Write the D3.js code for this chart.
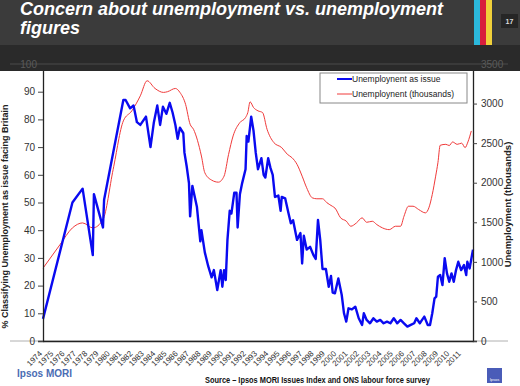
<!DOCTYPE html>
<html>
<head>
<meta charset="utf-8">
<script src="https://cdn.jsdelivr.net/npm/d3@7"></script>
<style>
  body { margin: 0; padding: 0; background: #fff; }
  svg { display: block; font-family: "Liberation Sans", Arial, sans-serif; }
</style>
</head>
<body>
<div id="chart"></div>
<script>
// concern about unemployment (% naming it as an issue)
var issueYears = [1974.0, 1976.6, 1977.5, 1978.4, 1978.5, 1979.3, 1979.4, 1981.1, 1981.3, 1981.7,
  1982.0, 1982.1, 1982.3, 1982.6, 1983.1, 1983.5, 1983.8, 1984.1, 1984.35, 1984.6,
  1984.9, 1985.2, 1985.45, 1985.7, 1985.9, 1986.1, 1986.4, 1986.5, 1986.7, 1986.9,
  1987.0, 1987.2, 1987.6, 1987.9, 1988.0, 1988.3, 1988.6, 1988.9, 1989.1, 1989.4,
  1989.7, 1989.85, 1990.0, 1990.15, 1990.3, 1990.5, 1990.65, 1990.9, 1991.1, 1991.2,
  1991.4, 1991.6, 1991.9, 1992.0, 1992.15, 1992.4, 1992.6, 1992.8, 1993.0, 1993.3,
  1993.5, 1993.65, 1993.9, 1994.1, 1994.3, 1994.5, 1994.8, 1995.0, 1995.1, 1995.4,
  1995.7, 1995.9, 1996.1, 1996.45, 1996.75, 1996.9, 1997.05, 1997.3, 1997.6, 1997.9,
  1998.1, 1998.3, 1998.5, 1998.7, 1999.0, 1999.25, 1999.45, 1999.6, 1999.8, 2000.1,
  2000.4, 2000.6, 2000.8, 2001.0, 2001.3, 2001.6, 2001.9, 2002.2, 2002.35, 2002.6,
  2002.9, 2003.2, 2003.5, 2003.8, 2004.1, 2004.4, 2004.7, 2005.0, 2005.3, 2005.6,
  2005.9, 2006.2, 2006.5, 2006.8, 2007.0, 2007.3, 2007.5, 2007.7, 2008.0, 2008.2,
  2008.4, 2008.6, 2008.75, 2008.9, 2009.1, 2009.3, 2009.5, 2009.7, 2009.9, 2010.1,
  2010.3, 2010.5, 2010.7, 2010.95, 2011.2, 2011.4, 2011.5, 2011.7, 2012.0];
var issueValues = [8, 50, 55, 31, 53, 41, 51, 87, 87, 84,
  85, 83, 79, 78, 81, 70, 79, 85, 78, 84.6,
  82, 86, 82.5, 78, 73, 77, 75, 68, 63, 57,
  45, 56, 48.5, 36, 40, 32, 27, 23, 25.6, 18.4,
  25.6, 19.6, 25.6, 22, 36.5, 47, 46, 53.5, 53.5, 41,
  53, 57, 62, 74, 72, 81, 76, 68, 62, 66,
  60, 59, 66, 62.5, 60, 52, 52.5, 47, 52, 51.5,
  46, 42.5, 43.6, 36.5, 39, 28, 38, 33, 34, 31,
  29.6, 43.7, 36.5, 26, 26, 19.6, 23.5, 17.5, 17.2, 22.6,
  16.6, 10, 7, 11.8, 11.4, 12.4, 8.2, 5.8, 10, 7.6,
  6.4, 8.2, 7, 7.6, 6.4, 7, 6.4, 8.2, 6.4, 7.6,
  6.4, 5.2, 5.8, 6.4, 8.2, 6.4, 7.6, 8.8, 5.8, 5.8,
  10, 15.4, 16, 23.2, 23.8, 20.2, 29.9, 24.4, 21.4, 24.4,
  21.4, 25.6, 28.6, 25.6, 27.4, 23.8, 28.6, 26.2, 33];

// unemployment in thousands
var unempYears = [1974.0, 1975.5, 1976.6, 1977.5, 1978.4, 1979.3, 1980.2, 1981.1, 1981.85, 1982.6,
  1983.2, 1983.9, 1984.65, 1985.0, 1985.7, 1986.1, 1986.6, 1987.0, 1987.3, 1988.0,
  1988.3, 1988.9, 1989.5, 1990.0, 1990.4, 1990.8, 1991.4, 1991.9, 1992.1, 1992.3,
  1992.6, 1993.0, 1993.4, 1993.8, 1994.4, 1995.1, 1995.6, 1996.0, 1996.45, 1996.9,
  1997.3, 1997.8, 1998.2, 1998.7, 1999.1, 1999.6, 1999.8, 2000.3, 2000.8, 2001.2,
  2001.7, 2002.2, 2002.6, 2003.1, 2003.5, 2004.0, 2004.6, 2005.15, 2005.6, 2005.9,
  2006.3, 2006.7, 2007.2, 2007.8, 2008.1, 2008.4, 2008.7, 2008.9, 2009.1, 2009.6,
  2009.9, 2010.2, 2010.6, 2011.0, 2011.3, 2011.55, 2011.85];
var unempValues = [920, 1217, 1429, 1492, 1429, 1534, 2168, 2781, 2908, 3098,
  3288, 3191, 3141, 3150, 3191, 3141, 2990, 2739, 2675, 2337,
  2126, 2033, 2007, 2083, 2358, 2591, 2760, 2824, 2887, 3022,
  2951, 2908, 2887, 2675, 2507, 2443, 2358, 2317, 2232, 2083,
  1936, 1809, 1797, 1797, 1746, 1700, 1680, 1556, 1515, 1450,
  1492, 1556, 1500, 1513, 1471, 1429, 1407, 1450, 1450, 1576,
  1703, 1703, 1661, 1619, 1683, 1851, 2083, 2253, 2473, 2485,
  2470, 2515, 2485, 2500, 2443, 2515, 2654];

// tick labels
var yearLabels = d3.range(1974, 2012);
var leftTicks = [0, 10, 20, 30, 40, 50, 60, 70, 80, 90];
var rightTicks = [0, 500, 1000, 1500, 2000, 2500, 3000];
var legendNames = ["Unemploynent as issue", "Unemploynent (thousands)"];

var W = 520, H = 386;
var plot = {left: 43, right: 473, top: 64, bottom: 341};

const svg = d3.select("#chart")
  .append("svg")
    .attr("width", W)
    .attr("height", H);

// scales
const x = d3.scaleLinear().domain([1974, 2012]).range([plot.left, plot.right]);
const yL = d3.scaleLinear().domain([0, 100]).range([plot.bottom, plot.top]);
const yR = d3.scaleLinear().domain([0, 3500]).range([plot.bottom, plot.top]);

// faint line at zero that runs past the axes
svg.append("line")
  .attr("x1", 10).attr("x2", 508)
  .attr("y1", yL(0)).attr("y2", yL(0))
  .attr("stroke", "#b0b0b0");

// lines
var issueLine = d3.line()
  .x((d, i) => x(issueYears[i]))
  .y(d => yL(d));
var unempLine = d3.line()
  .x((d, i) => x(unempYears[i]))
  .y(d => yR(d))
  .curve(d3.curveMonotoneX);

svg.append("path")
  .datum(unempValues)
  .attr("d", unempLine)
  .attr("fill", "none")
  .attr("stroke", "#f03a3a")
  .attr("stroke-width", 1);

svg.append("path")
  .datum(issueValues)
  .attr("d", issueLine)
  .attr("fill", "none")
  .attr("stroke", "#0a0af0")
  .attr("stroke-width", 2.4)
  .attr("stroke-linejoin", "round");

// left axis
const gL = svg.append("g")
  .attr("transform", `translate(${plot.left},0)`)
  .call(d3.axisLeft(yL).tickValues(leftTicks).tickSize(5).tickPadding(3));
// right axis
const gR = svg.append("g")
  .attr("transform", `translate(${plot.right},0)`)
  .call(d3.axisRight(yR).tickValues(rightTicks).tickFormat(d3.format("d")).tickSize(4).tickPadding(4));
// bottom axis, no ticks, rotated year labels
const gB = svg.append("g")
  .attr("transform", `translate(0,${plot.bottom})`)
  .call(d3.axisBottom(x).tickValues(yearLabels).tickFormat(d3.format("d")).tickSize(0));

[gL, gR, gB].forEach(function(g) {
  g.select(".domain").attr("stroke", "#222").attr("stroke-width", 1.3);
  g.selectAll(".tick line").attr("stroke", "#444");
  g.selectAll("text").attr("fill", "#333").style("font-size", "10px");
});
gB.selectAll("text")
  .style("font-size", "8px")
  .attr("text-anchor", "end")
  .attr("dy", "0")
  .attr("transform", "translate(-3,11) rotate(-45)");

// axis titles
svg.append("text")
  .attr("transform", `translate(8,${(plot.top + plot.bottom) / 2 + 14}) rotate(-90)`)
  .attr("text-anchor", "middle")
  .style("font-size", "9px")
  .style("font-weight", "bold")
  .attr("fill", "#222")
  .text("% Classifying Unemployment as issue facing Britain");
svg.append("text")
  .attr("transform", `translate(511,${(plot.top + plot.bottom) / 2 + 2}) rotate(-90)`)
  .attr("text-anchor", "middle")
  .style("font-size", "9.5px")
  .style("font-weight", "bold")
  .attr("fill", "#222")
  .text("Unemployment (thousands)");

// legend
const leg = svg.append("g").attr("transform", "translate(320,73)");
leg.append("rect")
  .attr("width", 147).attr("height", 30)
  .attr("fill", "#fff").attr("stroke", "#888");
var legColors = ["#0a0af0", "#f03a3a"];
legendNames.forEach(function(name, i) {
  leg.append("line")
    .attr("x1", 17).attr("x2", 32)
    .attr("y1", 6 + i * 15).attr("y2", 6 + i * 15)
    .attr("stroke", legColors[i])
    .attr("stroke-width", i == 0 ? 2 : 1);
  leg.append("text")
    .attr("x", 32).attr("y", 9 + i * 15)
    .style("font-size", "8.5px")
    .attr("fill", "#222")
    .text(name);
});

// header bands
svg.append("rect").attr("x", 0).attr("y", 0).attr("width", W).attr("height", 45).attr("fill", "#3b3b3b");
svg.append("rect").attr("x", 0).attr("y", 45).attr("width", W).attr("height", 26).attr("fill", "#2a2a2a");
// dim top labels peeking through the band
svg.append("line")
  .attr("x1", 10).attr("x2", 508)
  .attr("y1", yL(100)).attr("y2", yL(100))
  .attr("stroke", "#4a4a4a");
svg.append("text").attr("x", 37).attr("y", yL(100) + 3.5)
  .attr("text-anchor", "end").style("font-size", "10px").attr("fill", "#5a5a5a").text("100");
svg.append("text").attr("x", 481).attr("y", yR(3500) + 3.5)
  .style("font-size", "10px").attr("fill", "#5a5a5a").text("3500");

// colour stripes
var stripes = ["#2bb8dc", "#d81e3c", "#f0d03a"];
stripes.forEach(function(c, i) {
  svg.append("rect").attr("x", 474 + i * 6).attr("y", 0).attr("width", 6).attr("height", 45).attr("fill", c);
});
// page number
svg.append("rect").attr("x", 501).attr("y", 14).attr("width", 17).attr("height", 14).attr("fill", "#262626");
svg.append("text").attr("x", 509.5).attr("y", 24).attr("text-anchor", "middle")
  .style("font-size", "7px").style("font-weight", "bold").attr("fill", "#ddd").text("17");

// title
var titleLines = ["Concern about unemployment vs. unemployment", "figures"];
titleLines.forEach(function(t, i) {
  svg.append("text")
    .attr("x", 20).attr("y", 15 + i * 19)
    .style("font-size", "18px")
    .style("font-weight", "bold")
    .style("font-style", "italic")
    .attr("fill", "#fff")
    .text(t);
});

// footer
svg.append("text").attr("x", 17).attr("y", 377)
  .style("font-size", "10px").style("font-weight", "bold").attr("fill", "#4a6cb3").text("Ipsos MORI");
// source line is a squeezed bold face in the original: scale it to fit 225px
const src = svg.append("text")
  .style("font-size", "9.5px").style("font-weight", "bold").attr("fill", "#111")
  .text("Source \u2013 Ipsos MORI Issues Index and ONS labour force survey");
var srcLen = src.node().getComputedTextLength();
src.attr("transform", `translate(205,383) scale(${225 / srcLen},1)`);

svg.append("rect").attr("x", 487).attr("y", 368).attr("width", 15).attr("height", 15).attr("fill", "#4a5cb8");
svg.append("text").attr("x", 494.5).attr("y", 381).attr("text-anchor", "middle")
  .style("font-size", "4px").attr("fill", "#fff").text("Ipsos");
</script>
</body>
</html>
